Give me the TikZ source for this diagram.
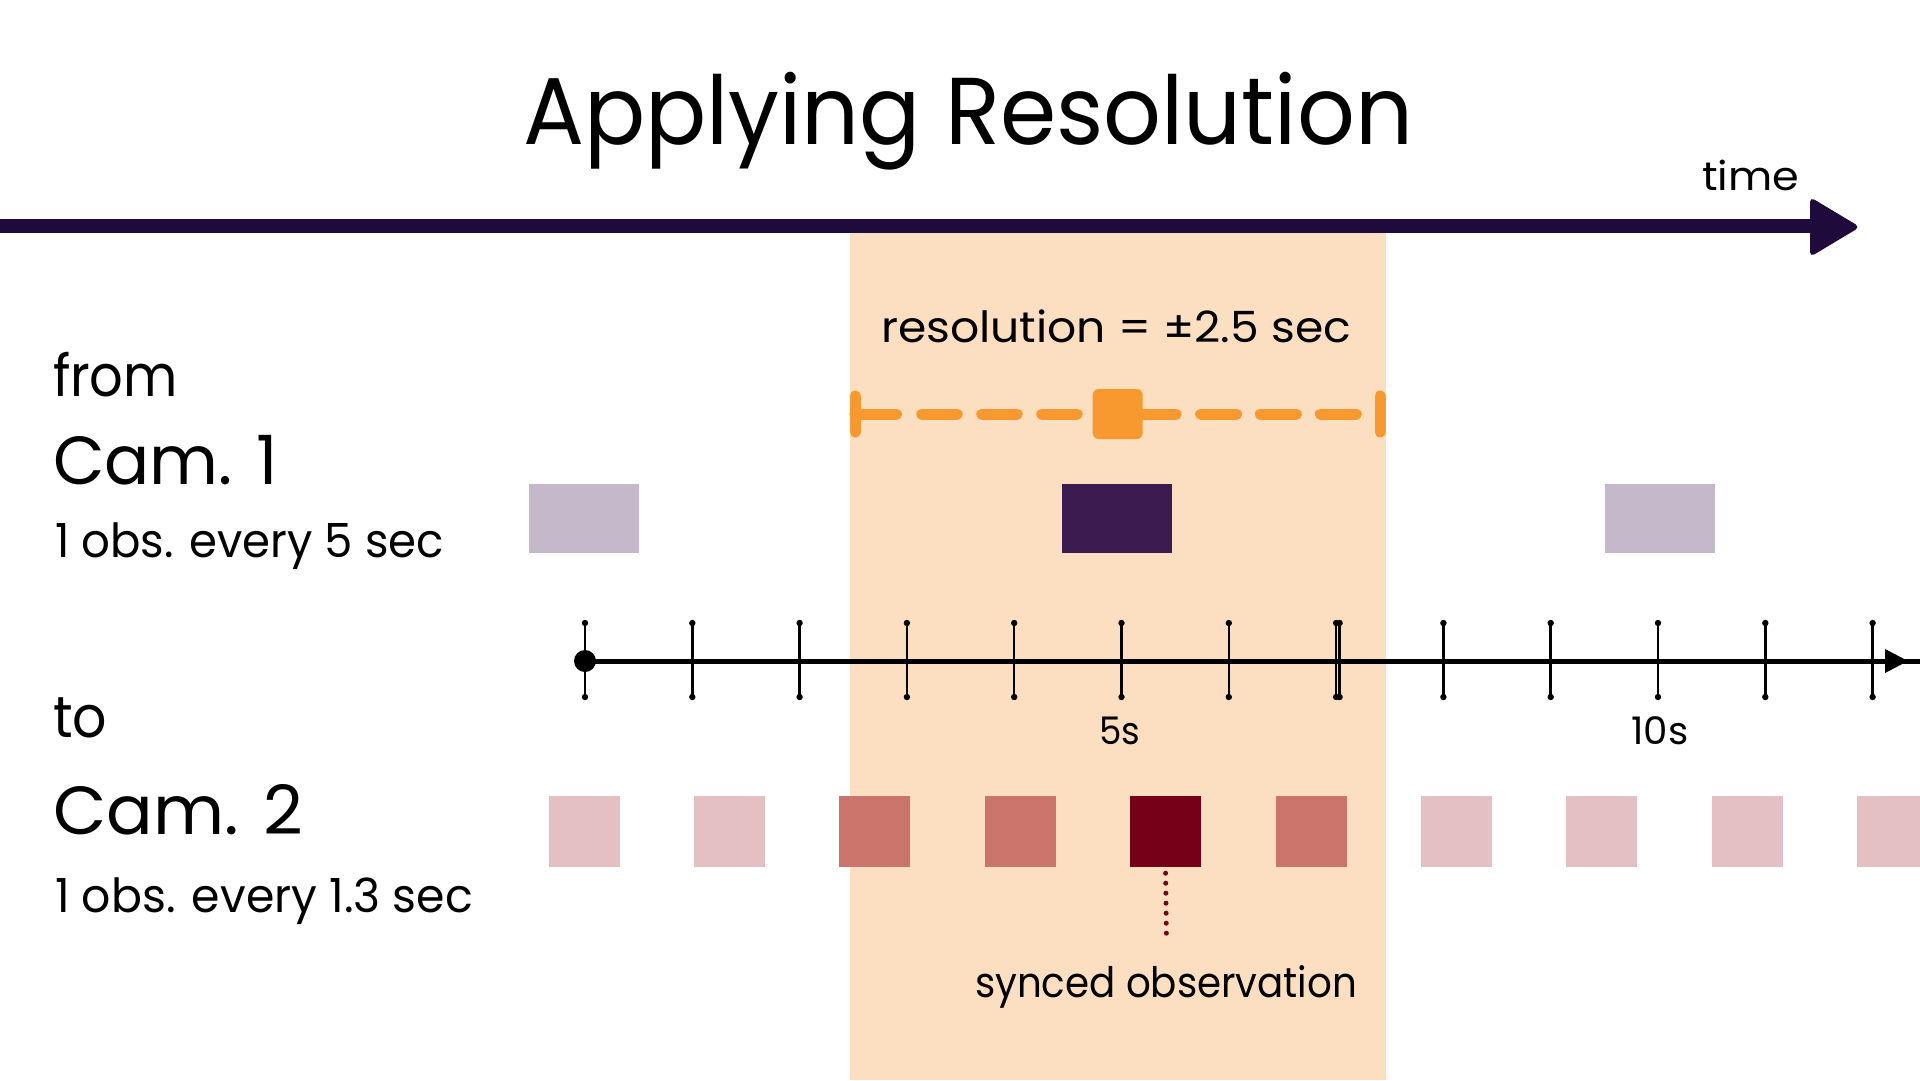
\documentclass[tikz,border=0pt]{standalone}
\usepackage{fontspec}
\setmainfont{Poppins}
\usepackage{graphicx}
\definecolor{timec}{HTML}{1F0A3C}
\definecolor{bandc}{HTML}{FCDFC0}
\definecolor{orangec}{HTML}{F7992E}
\definecolor{camlight}{HTML}{C4B8CA}
\definecolor{camdark}{HTML}{3A1A4F}
\definecolor{redlight}{HTML}{E5C0C3}
\definecolor{redmid}{HTML}{CB746B}
\definecolor{reddark}{HTML}{750018}
\newcommand\fitto[3]{%
  \begingroup\fontsize{#2}{#2}\selectfont
  \setbox0\hbox{#3}%
  \dimen0=\wd0
  \pgfmathsetmacro\fitscale{#1/\the\dimen0}%
  \scalebox{\fitscale}[1]{\box0}\endgroup}
\begin{document}
\begin{tikzpicture}[x=1pt,y=-1pt,
  txt/.style={inner sep=0pt, outer sep=0pt, anchor=base west},
  ctxt/.style={inner sep=0pt, outer sep=0pt, anchor=base},
  c1box/.style={draw=none, inner sep=0pt, minimum width=110pt, minimum height=69pt},
  c2box/.style={draw=none, inner sep=0pt, minimum width=71pt, minimum height=71pt},
  orangebar/.style={draw=orangec, line width=11pt, line cap=round},
  tickline/.style={line width=2.5pt},
  syncdots/.style={draw=reddark, line width=5pt, line cap=round, dash pattern=on 0pt off 10pt}]
\useasboundingbox (0,0) rectangle (1920,1080);
\fill[white] (0,0) rectangle (1920,1080);
% resolution band
\fill[bandc] (850,226) rectangle (1386,1080);
% time arrow
\coordinate (tstart) at (0,226);
\coordinate (tend) at (1815,226);
\draw[timec, line width=14pt] (tstart) -- (tend);
\fill[timec, rounded corners=5pt] (1810,197) -- (1860,227) -- (1810,257) -- cycle;
\node[txt] (time) at (1702,190) {\fitto{97}{40}{time}};
% title
\node[ctxt] (title) at (968,144) {\fitto{890}{95}{Applying Resolution}};
% resolution label and error bar
\node[txt] (reslabel) at (881,342) {\fitto{470}{43}{resolution = ±2.5 sec}};
\draw[orangebar] (855,396) -- (855,432);
\draw[orangebar] (1380,396) -- (1380,432);
\draw[orangebar] (855,414) -- (896.5,414);
\foreach \s in {921.7,981.7,1041.7} \draw[orangebar] (\s,414) -- ({\s+35.5},414);
\draw[orangebar] (1142,414) -- (1176,414);
\foreach \s in {1200.6,1260.3,1320.3} \draw[orangebar] (\s,414) -- ({\s+36},414);
\node[fill=orangec, rounded corners=6pt, minimum size=50pt, inner sep=0pt] (ressq) at (1117.7,414) {};
% left labels
\node[txt] (from) at (53,396) {\fitto{125}{58}{from}};
\node[txt] (cam1) at (53,484) {\fitto{225}{68}{Cam. 1}};
\node[txt] (obs1) at (55,557) {\fitto{389}{47}{1 obs. every 5 sec}};
\node[txt] (to) at (53,737) {\fitto{54}{58}{to}};
\node[txt] (cam2) at (53,834) {\fitto{250}{68}{Cam. 2}};
\node[txt] (obs2) at (55,912) {\fitto{418}{47}{1 obs. every 1.3 sec}};
% cam 1 observations
\node[c1box, fill=camlight] (c1a) at (584,518.5) {};
\node[c1box, fill=camdark] (c1b) at (1117,518.5) {};
\node[c1box, fill=camlight] (c1c) at (1660,518.5) {};
% timeline
\node[circle, fill=black, minimum size=22pt, inner sep=0pt] (t0) at (585,661) {};
\coordinate (tlend) at (1920,661);
\draw[line width=5pt] (t0.center) -- (tlend);
\fill (1885,649) -- (1908,661) -- (1885,673) -- cycle;
\foreach \k in {0,...,12} {
  \draw[tickline] ({585+107.3*\k},623) -- ({585+107.3*\k},697);
  \fill ({585+107.3*\k},623) circle (3.2);
  \fill ({585+107.3*\k},697) circle (3.2);
}
\draw[tickline] ({585+107.3*7+3.5},623) -- ({585+107.3*7+3.5},697);
\fill ({585+107.3*7+3.5},623) circle (3.2);
\fill ({585+107.3*7+3.5},697) circle (3.2);
\node[ctxt] (five) at (1120,744) {\fitto{41}{38}{5s}};
\node[ctxt] (ten) at (1660,744) {\fitto{57}{38}{10s}};
% cam 2 observations
\foreach \k/\c in {0/redlight,1/redlight,2/redmid,3/redmid,4/reddark,5/redmid,6/redlight,7/redlight,8/redlight,9/redlight}
  \node[c2box, fill=\c] (c2s\k) at ({584+145.4*\k},831.5) {};
% synced observation
\node[txt] (synced) at (975,997) {\fitto{382}{42}{synced observation}};
\coordinate (dotend) at (1166.5,943);
\draw[syncdots] ([yshift=-6pt]c2s4.south) -- (dotend);
\end{tikzpicture}
\end{document}
